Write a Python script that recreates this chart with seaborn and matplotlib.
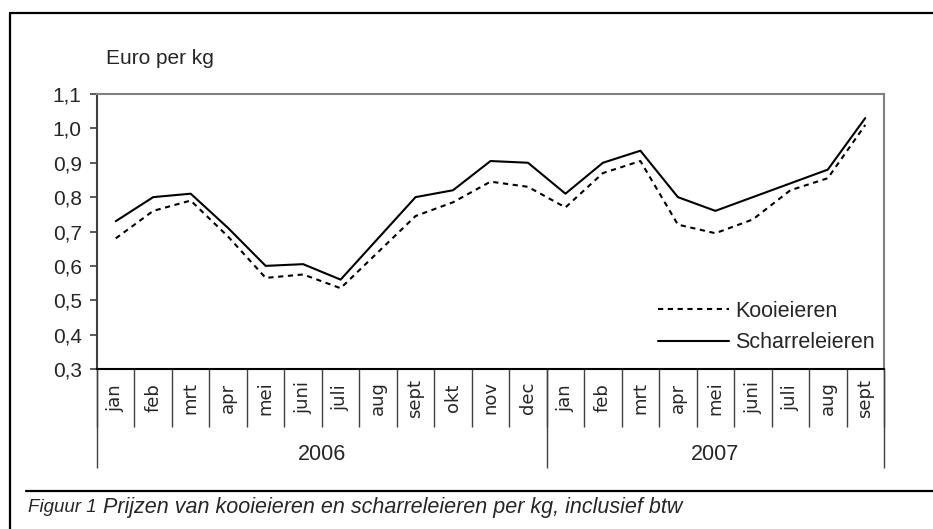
import numpy as np
import pandas as pd
import matplotlib
matplotlib.use('Agg')
import matplotlib.pyplot as plt
from matplotlib.lines import Line2D
import seaborn as sns

# Gegevens
maanden = ['jan', 'feb', 'mrt', 'apr', 'mei', 'juni', 'juli', 'aug', 'sept', 'okt', 'nov', 'dec',
           'jan', 'feb', 'mrt', 'apr', 'mei', 'juni', 'juli', 'aug', 'sept']
jaren = ['2006', '2007']
maanden_per_jaar = [12, 9]
kooieieren = [0.68, 0.76, 0.79, 0.685, 0.565, 0.575, 0.535, 0.64, 0.745, 0.785, 0.845, 0.83,
              0.77, 0.87, 0.905, 0.72, 0.695, 0.735, 0.82, 0.855, 1.01]
scharreleieren = [0.73, 0.80, 0.81, 0.71, 0.60, 0.605, 0.56, 0.68, 0.80, 0.82, 0.905, 0.90,
                  0.81, 0.90, 0.935, 0.80, 0.76, 0.80, 0.84, 0.88, 1.03]
y_ticks = [0.3, 0.4, 0.5, 0.6, 0.7, 0.8, 0.9, 1.0, 1.1]

n = len(maanden)
df = pd.DataFrame({
    'idx': list(range(n)) * 2,
    'prijs': kooieieren + scharreleieren,
    'soort': ['Kooieieren'] * n + ['Scharreleieren'] * n,
})

sns.set_style('white')
plt.rcParams['font.family'] = ['Liberation Sans', 'DejaVu Sans']

W, H = 933, 529
fig = plt.figure(figsize=(W / 100, H / 100), dpi=100)
x0, x1, y0, y1 = 97, 884, 94, 369
ax = fig.add_axes([x0 / W, 1 - y1 / H, (x1 - x0) / W, (y1 - y0) / H])

sns.lineplot(data=df, x='idx', y='prijs', hue='soort', style='soort',
             palette={'Kooieieren': 'black', 'Scharreleieren': 'black'},
             dashes={'Kooieieren': (2.5, 2.2), 'Scharreleieren': ''},
             linewidth=1.5, ax=ax)

ax.set_xlim(-0.5, n - 0.5)
ax.set_ylim(0.3, 1.1)
ax.set_yticks(y_ticks)
ax.set_yticklabels([f'{v:.1f}'.replace('.', ',') for v in y_ticks], fontsize=15)
ax.set_xticks([])
ax.set_xlabel('')
ax.set_ylabel('')
ax.tick_params(axis='y', direction='out', length=5, width=1.2, color='#404040', pad=6, left=True)

for s in ['top', 'right']:
    ax.spines[s].set_color('#808080')
    ax.spines[s].set_linewidth(1.5)
ax.spines['left'].set_color('#404040')
ax.spines['left'].set_linewidth(1.5)
ax.spines['bottom'].set_color('black')
ax.spines['bottom'].set_linewidth(1.5)

# categorie-as met maanden en jaren
tr = ax.get_xaxis_transform()
hgt = y1 - y0
ax.vlines(np.arange(n + 1) - 0.5, -(427 - y1) / hgt, 0, transform=tr, clip_on=False,
          color='#404040', linewidth=1)
grenzen = np.concatenate([[0], np.cumsum(maanden_per_jaar)]) - 0.5
ax.vlines(grenzen, -(468 - y1) / hgt, 0, transform=tr, clip_on=False,
          color='#404040', linewidth=1)
for i, m in enumerate(maanden):
    ax.text(i, -(398 - y1) / hgt, m, rotation=90, ha='center', va='center',
            transform=tr, fontsize=13, family=['DejaVu Sans'])
for j, jr in enumerate(jaren):
    ax.text((grenzen[j] + grenzen[j + 1]) / 2, -(455 - y1) / hgt, jr, ha='center', va='center',
            transform=tr, fontsize=15.5)

leg = ax.legend(loc='center left', bbox_to_anchor=(658 / W, 1 - 327 / H),
                bbox_transform=fig.transFigure, frameon=False, fontsize=15.5,
                handlelength=3.3, handletextpad=0.3, borderpad=0, borderaxespad=0,
                labelspacing=0.5)

fig.text(106 / W, 1 - 58 / H, 'Euro per kg', fontsize=15, va='center', ha='left')

# kader en onderschrift
fig.add_artist(Line2D([10 / W, 1], [1 - 13 / H, 1 - 13 / H], color='black', linewidth=1.6))
fig.add_artist(Line2D([10 / W, 10 / W], [0, 1 - 13 / H], color='black', linewidth=1.6))
fig.add_artist(Line2D([26 / W, 1], [1 - 491 / H, 1 - 491 / H], color='black', linewidth=1.6))
fig.text(28 / W, 1 - 508 / H, 'Figuur 1', fontsize=13.5, style='italic', va='center')
fig.text(103 / W, 1 - 508 / H, 'Prijzen van kooieieren en scharreleieren per kg, inclusief btw',
         fontsize=15.5, style='italic', va='center')

fig.savefig('out.png', dpi=100)
